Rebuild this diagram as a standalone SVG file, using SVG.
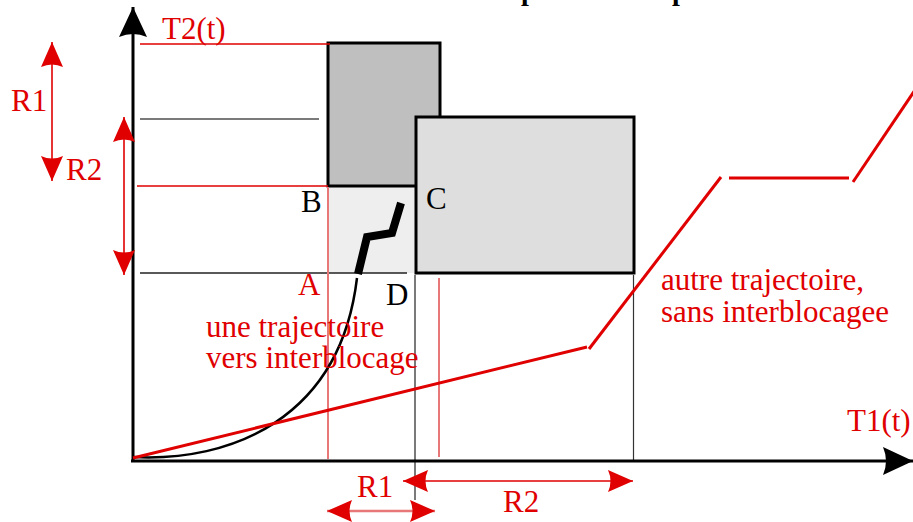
<svg xmlns="http://www.w3.org/2000/svg" width="913" height="522" viewBox="0 0 913 522">
<style>
text{font-family:"Liberation Serif","Times New Roman",serif;font-size:31px}
.r{fill:#e00000}
.k{fill:#000}
.title{font-weight:bold;font-size:28px}
.ax{stroke:#000;stroke-width:3;fill:none}
.rt{stroke:#e00000;stroke-width:3;fill:none}
.rthin{stroke:#e00000;stroke-width:1.3}
.rlight{stroke:#e87878;stroke-width:2}
.gray{stroke:#7a7a7a;stroke-width:2}
.dim{stroke:#e00000;stroke-width:1.6;fill:none}
</style>
<defs>
<marker id="ra" viewBox="0 0 25 22" refX="25" refY="11" markerWidth="25" markerHeight="22" markerUnits="userSpaceOnUse" orient="auto-start-reverse">
<path d="M0,0 L25,11 L0,22 Q5,11 0,0 Z" fill="#e00000"/>
</marker>
<marker id="ka" viewBox="0 0 30 28" refX="30" refY="14" markerWidth="30" markerHeight="28" markerUnits="userSpaceOnUse" orient="auto">
<path d="M0,0 L30,14 L0,28 Q6,14 0,0 Z" fill="#000"/>
</marker>
</defs>
<rect width="913" height="522" fill="#fff"/>

<g id="title">
<text class="title k" x="521" y="0">p</text>
<text class="title k" x="672" y="0">p</text>
</g>

<g id="zone-between">
<rect x="328" y="186" width="88" height="87" fill="#eeeeee"/>
</g>
<g id="resource-R1">
<rect x="328" y="43" width="112" height="143" fill="#bfbfbf" stroke="#000" stroke-width="3"/>
</g>
<g id="resource-R2">
<rect x="416" y="117" width="218" height="156" fill="#dedede" stroke="#000" stroke-width="3"/>
</g>

<g id="guides">
<line class="rthin" x1="140" y1="44" x2="330" y2="44"/>
<line class="gray" x1="140" y1="119" x2="319" y2="119"/>
<line class="rthin" x1="137" y1="186" x2="328" y2="186"/>
<line x1="140" y1="273" x2="407" y2="273" stroke="#222" stroke-width="1.5"/>
<line class="rlight" x1="328" y1="187" x2="328" y2="459"/>
<line class="gray" x1="415" y1="275" x2="415" y2="500"/>
<line class="rlight" x1="439" y1="278" x2="439" y2="457"/>
<line x1="633.5" y1="275" x2="633.5" y2="460" stroke="#333" stroke-width="1.2"/>
</g>

<g id="connectors">
<line class="ax" x1="133" y1="462" x2="133" y2="7" marker-end="url(#ka)"/>
<line class="ax" x1="131" y1="461" x2="913" y2="461" marker-end="url(#ka)"/>
<line class="dim" x1="52" y1="42" x2="52" y2="181" marker-start="url(#ra)" marker-end="url(#ra)"/>
<line class="dim" x1="124" y1="117" x2="124" y2="275" marker-start="url(#ra)" marker-end="url(#ra)"/>
<line class="dim" x1="403" y1="481" x2="633" y2="481" marker-start="url(#ra)" marker-end="url(#ra)"/>
<line x1="327" y1="511" x2="435" y2="511" stroke="#e87878" stroke-width="2.5" marker-start="url(#ra)" marker-end="url(#ra)"/>
<path d="M133,457 C230,462 340,420 357,278" fill="none" stroke="#000" stroke-width="2.5"/>
<polyline points="358,274 367,237 392,233 401,203" fill="none" stroke="#000" stroke-width="8" stroke-linejoin="miter"/>
<line class="rt" x1="133" y1="458" x2="587" y2="347"/>
<line class="rt" x1="589" y1="349" x2="721" y2="177"/>
<line class="rt" x1="729" y1="178" x2="849" y2="178"/>
<line class="rt" x1="853" y1="182" x2="915" y2="90"/>
</g>

<g id="labels">
<text class="r" x="162" y="39">T2(t)</text>
<text class="r" x="847" y="431">T1(t)</text>
<text class="r" x="11" y="111">R1</text>
<text class="r" x="66" y="180">R2</text>
<text class="r" x="357" y="497">R1</text>
<text class="r" x="503" y="512">R2</text>
<text class="k" x="301" y="212">B</text>
<text class="k" x="426" y="209">C</text>
<text class="r" x="298" y="295">A</text>
<text class="k" x="386" y="305">D</text>
<text class="r" x="206" y="337">une trajectoire</text>
<text class="r" x="206" y="368">vers interblocage</text>
<text class="r" x="661" y="290">autre trajectoire,</text>
<text class="r" x="661" y="322">sans interblocagee</text>
</g>
</svg>
